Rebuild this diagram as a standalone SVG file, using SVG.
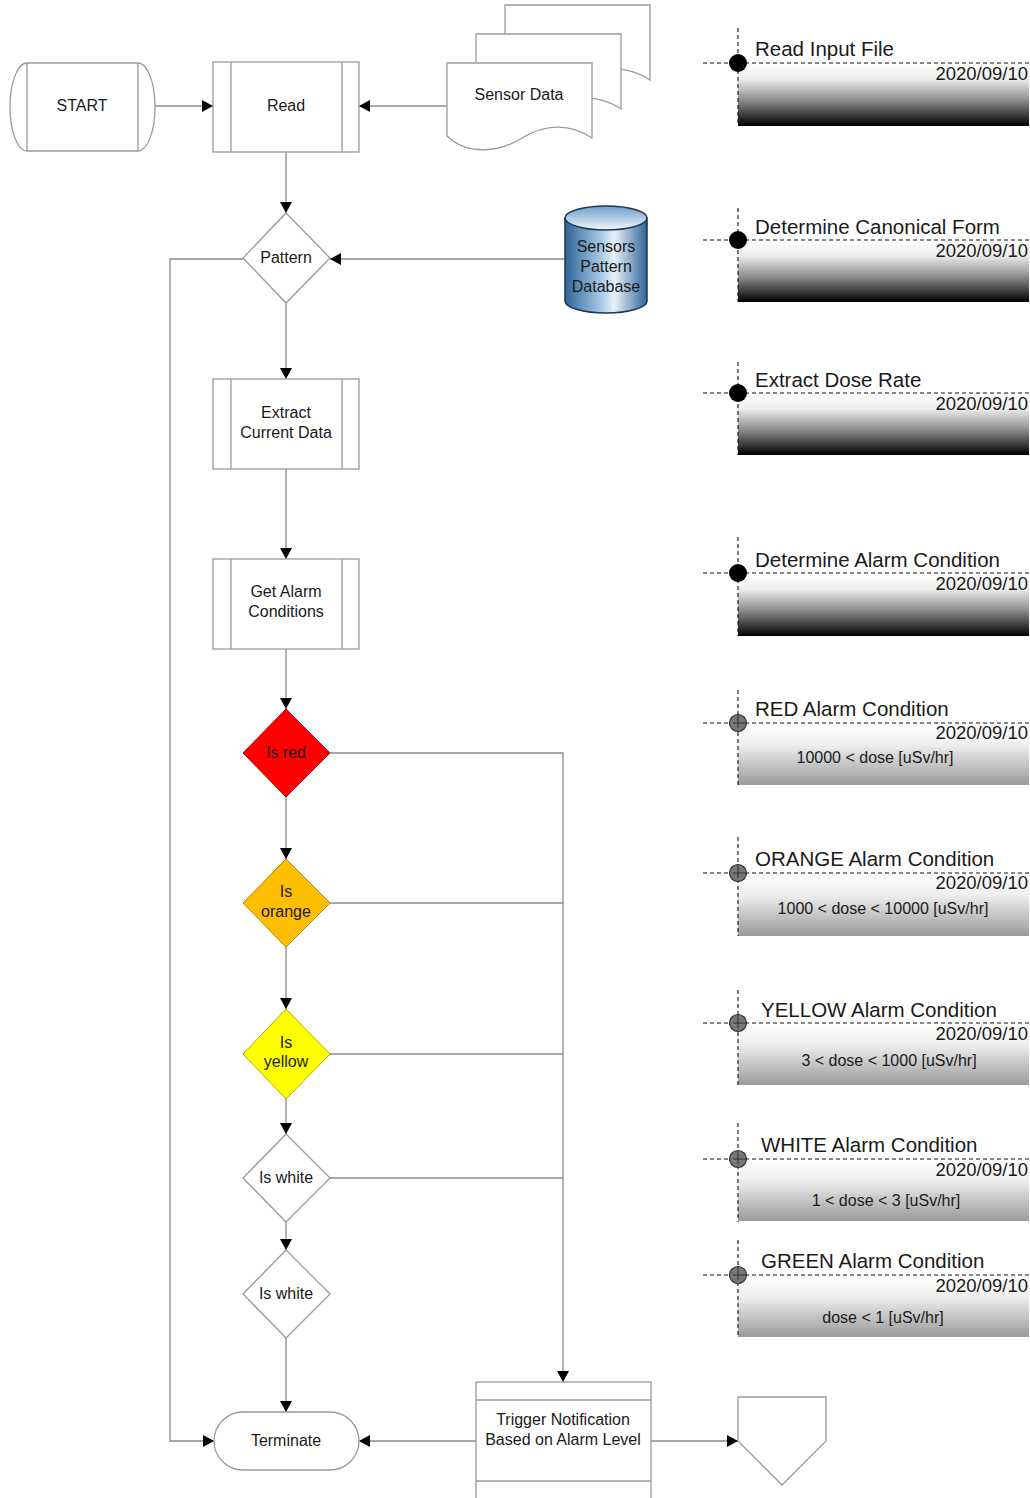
<svg xmlns="http://www.w3.org/2000/svg" width="1030" height="1498" viewBox="0 0 1030 1498">
<style>
text{font-family:"Liberation Sans",Arial,sans-serif;fill:#1a1a1a}
.n{font-size:16px;text-anchor:middle}
.shape{fill:#fff;stroke:#9a9a9a;stroke-width:1.3}
.conn{fill:none;stroke:#8a8a8a;stroke-width:1.3}
.dash{fill:none;stroke:#111;stroke-width:1.1;stroke-dasharray:4 3}
.title{font-size:20.5px}
.date{font-size:18.5px;text-anchor:end}
.body{font-size:16px;text-anchor:middle}
.mk{fill:#777;stroke:#333;stroke-width:1.2}
.cross{fill:none;stroke:#333;stroke-width:1}
</style>
<defs>
<marker id="arr" markerWidth="12" markerHeight="12" refX="11" refY="6" orient="auto" markerUnits="userSpaceOnUse">
<path d="M0,0 L11,6 L0,12 Z" fill="#000"/>
</marker>
<linearGradient id="gDark" x1="0" y1="0" x2="0" y2="1">
<stop offset="0" stop-color="#ffffff"/>
<stop offset="0.25" stop-color="#eeeeee"/>
<stop offset="0.6" stop-color="#8a8a8a"/>
<stop offset="1" stop-color="#000000"/>
</linearGradient>
<linearGradient id="gLight" x1="0" y1="0" x2="0" y2="1">
<stop offset="0" stop-color="#ffffff"/>
<stop offset="0.35" stop-color="#eeeeee"/>
<stop offset="1" stop-color="#9a9a9a"/>
</linearGradient>
<linearGradient id="gCyl" x1="0" y1="0" x2="1" y2="0">
<stop offset="0" stop-color="#2f6596"/>
<stop offset="0.45" stop-color="#a9cbe8"/>
<stop offset="0.6" stop-color="#e8f2fb"/>
<stop offset="1" stop-color="#2f6596"/>
</linearGradient>
<linearGradient id="gCylTop" x1="0" y1="0" x2="0" y2="1">
<stop offset="0" stop-color="#6d9cc6"/>
<stop offset="1" stop-color="#f2f7fc"/>
</linearGradient>
<path id="doc" d="M0,0 H145 V75 C123,60 98,61 75,75 C53,89 21,93 0,73 Z"/>
</defs>

<g id="connectors">
<line class="conn" x1="155" y1="106" x2="213" y2="106" marker-end="url(#arr)"/>
<line class="conn" x1="447" y1="106" x2="359" y2="106" marker-end="url(#arr)"/>
<line class="conn" x1="286" y1="152" x2="286" y2="213" marker-end="url(#arr)"/>
<line class="conn" x1="565" y1="259" x2="330" y2="259" marker-end="url(#arr)"/>
<polyline class="conn" points="243,259 170,259 170,1441 214,1441" marker-end="url(#arr)"/>
<line class="conn" x1="286" y1="303" x2="286" y2="379" marker-end="url(#arr)"/>
<line class="conn" x1="286" y1="469" x2="286" y2="559" marker-end="url(#arr)"/>
<line class="conn" x1="286" y1="649" x2="286" y2="709" marker-end="url(#arr)"/>
<line class="conn" x1="286" y1="797" x2="286" y2="859" marker-end="url(#arr)"/>
<line class="conn" x1="286" y1="947" x2="286" y2="1009" marker-end="url(#arr)"/>
<line class="conn" x1="286" y1="1099" x2="286" y2="1134" marker-end="url(#arr)"/>
<line class="conn" x1="286" y1="1222" x2="286" y2="1250" marker-end="url(#arr)"/>
<line class="conn" x1="286" y1="1338" x2="286" y2="1412" marker-end="url(#arr)"/>
<polyline class="conn" points="330,753 563,753 563,1382" marker-end="url(#arr)"/>
<line class="conn" x1="330" y1="903" x2="563" y2="903"/>
<line class="conn" x1="330" y1="1054" x2="563" y2="1054"/>
<line class="conn" x1="330" y1="1178" x2="563" y2="1178"/>
<line class="conn" x1="476" y1="1441" x2="359" y2="1441" marker-end="url(#arr)"/>
<line class="conn" x1="651" y1="1441" x2="738" y2="1441" marker-end="url(#arr)"/>
</g>

<g id="start">
<path class="shape" d="M27,63 H138 A17,44 0 0 1 138,151 H27 A17,44 0 0 1 27,63 Z"/>
<line class="shape" x1="27" y1="63" x2="27" y2="151"/>
<line class="shape" x1="138" y1="63" x2="138" y2="151"/>
<text class="n" x="82" y="111">START</text>
</g>

<g id="read">
<rect class="shape" x="213" y="62" width="146" height="90"/>
<line class="shape" x1="231" y1="62" x2="231" y2="152"/>
<line class="shape" x1="342" y1="62" x2="342" y2="152"/>
<text class="n" x="286" y="111">Read</text>
</g>

<g id="sensor-data">
<use href="#doc" class="shape" transform="translate(505,5)"/>
<use href="#doc" class="shape" transform="translate(476,34)"/>
<use href="#doc" class="shape" transform="translate(447,63)"/>
<text class="n" x="519" y="100">Sensor Data</text>
</g>

<g id="pattern">
<polygon class="shape" points="286,213 330,258 286,303 243,258"/>
<text class="n" x="286" y="263">Pattern</text>
</g>

<g id="database">
<path d="M565,218 V301 A41,12 0 0 0 647,301 V218 Z" fill="url(#gCyl)" stroke="#1d3550" stroke-width="1.5"/>
<ellipse cx="606" cy="218" rx="41" ry="12" fill="url(#gCylTop)" stroke="#1d3550" stroke-width="1.5"/>
<text class="n" x="606" y="252">Sensors</text>
<text class="n" x="606" y="272">Pattern</text>
<text class="n" x="606" y="292">Database</text>
</g>

<g id="extract">
<rect class="shape" x="213" y="379" width="146" height="90"/>
<line class="shape" x1="231" y1="379" x2="231" y2="469"/>
<line class="shape" x1="342" y1="379" x2="342" y2="469"/>
<text class="n" x="286" y="418">Extract</text>
<text class="n" x="286" y="438">Current Data</text>
</g>

<g id="get-alarm">
<rect class="shape" x="213" y="559" width="146" height="90"/>
<line class="shape" x1="231" y1="559" x2="231" y2="649"/>
<line class="shape" x1="342" y1="559" x2="342" y2="649"/>
<text class="n" x="286" y="597">Get Alarm</text>
<text class="n" x="286" y="617">Conditions</text>
</g>

<g id="is-red">
<polygon points="286,709 330,753 286,797 243,753" fill="#ff0000" stroke="#b00000" stroke-width="1"/>
<text class="n" x="286" y="758">Is red</text>
</g>

<g id="is-orange">
<polygon points="286,859 330,903 286,947 243,903" fill="#ffbf00" stroke="#b08400" stroke-width="1"/>
<text class="n" x="286" y="897">Is</text>
<text class="n" x="286" y="917">orange</text>
</g>

<g id="is-yellow">
<polygon points="286,1009 330,1054 286,1099 243,1054" fill="#ffff00" stroke="#b0b000" stroke-width="1"/>
<text class="n" x="286" y="1048">Is</text>
<text class="n" x="286" y="1067">yellow</text>
</g>

<g id="is-white-1">
<polygon class="shape" points="286,1134 330,1178 286,1222 243,1178"/>
<text class="n" x="286" y="1183">Is white</text>
</g>

<g id="is-white-2">
<polygon class="shape" points="286,1250 330,1294 286,1338 243,1294"/>
<text class="n" x="286" y="1299">Is white</text>
</g>

<g id="terminate">
<rect class="shape" x="214" y="1412" width="145" height="58" rx="29" ry="29"/>
<text class="n" x="286" y="1446">Terminate</text>
</g>

<g id="trigger">
<rect class="shape" x="476" y="1382" width="175" height="130"/>
<line class="shape" x1="476" y1="1400" x2="651" y2="1400"/>
<line class="shape" x1="476" y1="1481" x2="651" y2="1481"/>
<text class="n" x="563" y="1425">Trigger Notification</text>
<text class="n" x="563" y="1445">Based on Alarm Level</text>
</g>

<g id="offpage">
<polygon class="shape" points="738,1397 826,1397 826,1441 782,1485 738,1441"/>
</g>

<g id="panel-read-input">
<rect x="738" y="63" width="291" height="63" fill="url(#gDark)"/>
<line class="dash" x1="738" y1="28" x2="738" y2="126"/>
<line class="dash" x1="703" y1="63" x2="1030" y2="63"/>
<circle cx="738" cy="63" r="9" fill="#000"/>
<text class="title" x="755" y="56">Read Input File</text>
<text class="date" x="1028" y="80">2020/09/10</text>
</g>

<g id="panel-canonical">
<rect x="738" y="240" width="291" height="62" fill="url(#gDark)"/>
<line class="dash" x1="738" y1="208" x2="738" y2="302"/>
<line class="dash" x1="703" y1="240" x2="1030" y2="240"/>
<circle cx="738" cy="240" r="9" fill="#000"/>
<text class="title" x="755" y="234">Determine Canonical Form</text>
<text class="date" x="1028" y="257">2020/09/10</text>
</g>

<g id="panel-dose">
<rect x="738" y="393" width="291" height="62" fill="url(#gDark)"/>
<line class="dash" x1="738" y1="362" x2="738" y2="455"/>
<line class="dash" x1="703" y1="393" x2="1030" y2="393"/>
<circle cx="738" cy="393" r="9" fill="#000"/>
<text class="title" x="755" y="387">Extract Dose Rate</text>
<text class="date" x="1028" y="410">2020/09/10</text>
</g>

<g id="panel-alarm">
<rect x="738" y="573" width="291" height="63" fill="url(#gDark)"/>
<line class="dash" x1="738" y1="537" x2="738" y2="636"/>
<line class="dash" x1="703" y1="573" x2="1030" y2="573"/>
<circle cx="738" cy="573" r="9" fill="#000"/>
<text class="title" x="755" y="567">Determine Alarm Condition</text>
<text class="date" x="1028" y="590">2020/09/10</text>
</g>

<g id="panel-red">
<rect x="738" y="723" width="291" height="62" fill="url(#gLight)"/>
<line class="dash" x1="738" y1="690" x2="738" y2="786"/>
<line class="dash" x1="703" y1="723" x2="1030" y2="723"/>
<circle class="mk" cx="738" cy="723" r="8.5"/>
<path class="cross" d="M738,715 V728 M733,723 H746"/>
<text class="title" x="755" y="716">RED Alarm Condition</text>
<text class="date" x="1028" y="739">2020/09/10</text>
<text class="body" x="875" y="763">10000 &lt; dose [uSv/hr]</text>
</g>

<g id="panel-orange">
<rect x="738" y="873" width="291" height="63" fill="url(#gLight)"/>
<line class="dash" x1="738" y1="837" x2="738" y2="936"/>
<line class="dash" x1="703" y1="873" x2="1030" y2="873"/>
<circle class="mk" cx="738" cy="873" r="8.5"/>
<path class="cross" d="M738,865 V878 M733,873 H746"/>
<text class="title" x="755" y="866">ORANGE Alarm Condition</text>
<text class="date" x="1028" y="889">2020/09/10</text>
<text class="body" x="883" y="914">1000 &lt; dose &lt; 10000 [uSv/hr]</text>
</g>

<g id="panel-yellow">
<rect x="738" y="1023" width="291" height="62" fill="url(#gLight)"/>
<line class="dash" x1="738" y1="990" x2="738" y2="1086"/>
<line class="dash" x1="703" y1="1023" x2="1030" y2="1023"/>
<circle class="mk" cx="738" cy="1023" r="8.5"/>
<path class="cross" d="M738,1015 V1028 M733,1023 H746"/>
<text class="title" x="761" y="1017">YELLOW Alarm Condition</text>
<text class="date" x="1028" y="1040">2020/09/10</text>
<text class="body" x="889" y="1066">3 &lt; dose &lt; 1000 [uSv/hr]</text>
</g>

<g id="panel-white">
<rect x="738" y="1159" width="291" height="62" fill="url(#gLight)"/>
<line class="dash" x1="738" y1="1123" x2="738" y2="1222"/>
<line class="dash" x1="703" y1="1159" x2="1030" y2="1159"/>
<circle class="mk" cx="738" cy="1159" r="8.5"/>
<path class="cross" d="M738,1151 V1164 M733,1159 H746"/>
<text class="title" x="761" y="1152">WHITE Alarm Condition</text>
<text class="date" x="1028" y="1176">2020/09/10</text>
<text class="body" x="886" y="1206">1 &lt; dose &lt; 3 [uSv/hr]</text>
</g>

<g id="panel-green">
<rect x="738" y="1275" width="291" height="62" fill="url(#gLight)"/>
<line class="dash" x1="738" y1="1240" x2="738" y2="1338"/>
<line class="dash" x1="703" y1="1275" x2="1030" y2="1275"/>
<circle class="mk" cx="738" cy="1275" r="8.5"/>
<path class="cross" d="M738,1267 V1280 M733,1275 H746"/>
<text class="title" x="761" y="1268">GREEN Alarm Condition</text>
<text class="date" x="1028" y="1292">2020/09/10</text>
<text class="body" x="883" y="1323">dose &lt; 1 [uSv/hr]</text>
</g>
</svg>
